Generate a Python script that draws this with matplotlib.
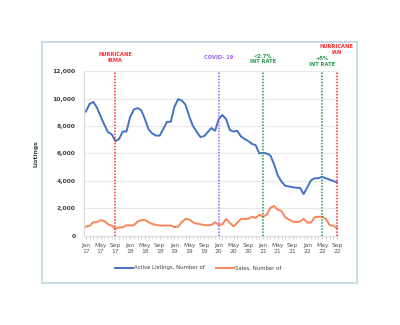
import numpy as np
import matplotlib
matplotlib.use("Agg")
import matplotlib.pyplot as plt
from matplotlib.patches import Rectangle

# monthly values, Jan 2017 .. Sep 2022
active_listings = [
    9050, 9600, 9750, 9350, 8700, 8100, 7550, 7400, 6900, 7050, 7600, 7600,
    8650, 9200, 9300, 9150, 8500, 7750, 7450, 7300, 7300, 7800, 8300, 8300,
    9400, 9950, 9850, 9550, 8700, 8000, 7600, 7200, 7250, 7550, 7850, 7650,
    8500, 8800, 8500, 7700, 7600, 7650, 7250, 7050, 6900, 6700, 6600, 6000,
    6050, 6000, 5850, 5200, 4400, 3950, 3650, 3600, 3550, 3500, 3500, 3050,
    3550, 4050, 4200, 4200, 4300, 4200, 4100, 4000, 3900,
]
sales = [
    680, 730, 1000, 1000, 1150, 1080, 850, 750, 520, 620, 630, 780,
    760, 780, 1050, 1150, 1160, 1000, 870, 800, 760, 760, 760, 760,
    640, 680, 1000, 1240, 1200, 1000, 900, 860, 780, 780, 800, 1000,
    800, 850, 1240, 950, 700, 950, 1240, 1240, 1250, 1400, 1300, 1550,
    1400, 1550, 2050, 2180, 1900, 1820, 1350, 1200, 1050, 1000, 1050, 1240,
    970, 980, 1360, 1400, 1400, 1250, 800, 750, 560,
]
month_names = ["Jan", "May", "Sep"]
years = ["17", "18", "19", "20", "21", "22"]

# event markers: (month index, label, colour, label height in data units)
events = [
    (8, "HURRICANE\nIRMA", "#ff2a2a", 12980),
    (36, "COVID- 19", "#9b5cf6", 12950),
    (48, "<2.7%\nINT RATE", "#1f9a4a", 12880),
    (64, "+5%\nINT RATE", "#1f9a4a", 12680),
    (68, "HURRICANE\nIAN", "#ff2a2a", 13560),
]

x = np.arange(len(active_listings))
tick_pos = np.arange(0, len(x), 4)
tick_lbl = [f"{month_names[(i // 4) % 3]}\n{years[i // 12]}" for i in tick_pos]

fig = plt.figure(figsize=(4, 3.25), dpi=100)
fig.patches.append(Rectangle((0.105, 0.129), 0.7875, 0.742, transform=fig.transFigure,
                             fill=False, edgecolor="#c8dce8", lw=1.4))

ax = fig.add_axes([0.21, 0.274, 0.635, 0.5075])
ax.plot(x, active_listings, color="#4472c4", lw=1.4, label="Active Listings, Number of")
ax.plot(x, sales, color="#f7875a", lw=1.4, label="Sales, Number of")

for m, txt, col, ytxt in events:
    ax.axvline(m, color=col, lw=1.1, ls=(0, (1, 1)))
    ax.text(m, ytxt, txt, color=col, fontsize=3.7, fontweight="bold",
            ha="center", va="center", linespacing=1.1)

ax.set_xlim(-0.5, 68.3)
ax.set_ylim(0, 12000)
ax.set_yticks(range(0, 12001, 2000))
ax.set_yticklabels([f"{v:,}" for v in range(0, 12001, 2000)], fontsize=4.3,
                   fontweight="bold", color="#404040")
ax.set_xticks(tick_pos)
ax.set_xticklabels(tick_lbl, fontsize=4.3, color="#555555", linespacing=1.4)
ax.set_xticks(x, minor=True)
ax.tick_params(axis="x", which="both", length=2, color="#d0d0d0", pad=3)
ax.tick_params(axis="y", length=0, pad=6)
ax.set_ylabel("Listings", fontsize=4.3, fontweight="bold", color="#404040", labelpad=10)

ax.grid(axis="y", color="#e8e8e8", lw=0.8)
ax.set_axisbelow(True)
for s in ["top", "right"]:
    ax.spines[s].set_visible(False)
ax.spines["left"].set_color("#d9d9d9")
ax.spines["bottom"].set_color("#d9d9d9")

ax.legend(loc="center", bbox_to_anchor=(0.45, -0.194), ncol=2, frameon=False,
          fontsize=3.9, handlelength=3.2, handletextpad=0.2, columnspacing=2.2,
          labelcolor="#404040")

fig.savefig("out.png", dpi=100)
